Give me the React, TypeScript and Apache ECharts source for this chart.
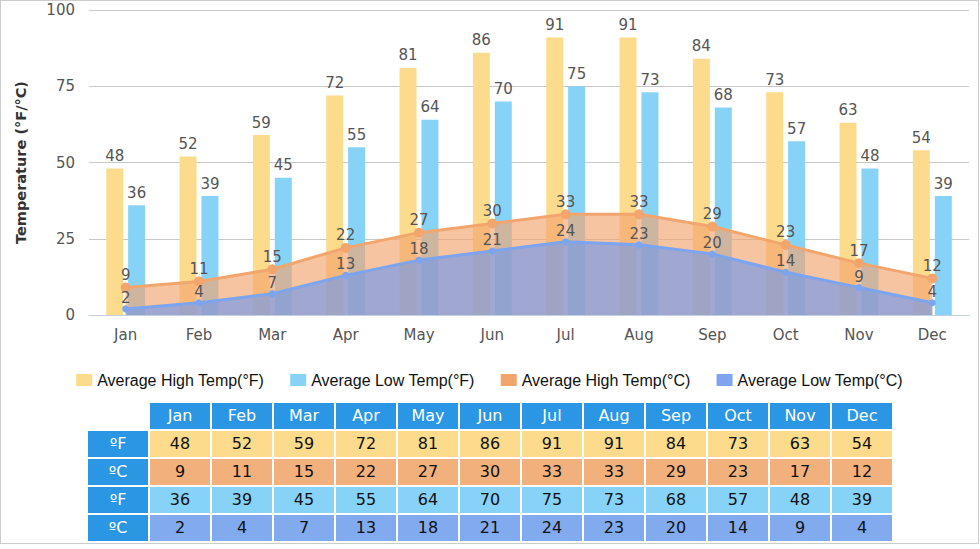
import * as echarts from "echarts";
import { useEffect, useRef } from "react";

const months = ["Jan", "Feb", "Mar", "Apr", "May", "Jun", "Jul", "Aug", "Sep", "Oct", "Nov", "Dec"];
const highF = [48, 52, 59, 72, 81, 86, 91, 91, 84, 73, 63, 54];
const lowF = [36, 39, 45, 55, 64, 70, 75, 73, 68, 57, 48, 39];
const highC = [9, 11, 15, 22, 27, 30, 33, 33, 29, 23, 17, 12];
const lowC = [2, 4, 7, 13, 18, 21, 24, 23, 20, 14, 9, 4];
const seriesNames = [
  "Average High Temp(°F)",
  "Average Low Temp(°F)",
  "Average High Temp(°C)",
  "Average Low Temp(°C)",
];
const yTicks = { min: 0, max: 100, interval: 25 };

const YELLOW = "#fcdb8c";
const SKY = "#87d3f8";
const ORANGE = "#f3a56e";
const BLUE = "#7da4ef";
const FONT = "DejaVu Sans";

const tableRows = [
  { unit: "ºF", values: highF, bg: YELLOW },
  { unit: "ºC", values: highC, bg: "#f2b07c" },
  { unit: "ºF", values: lowF, bg: SKY },
  { unit: "ºC", values: lowC, bg: "#82abef" },
];

const cell: React.CSSProperties = {
  width: 60,
  height: 26,
  padding: 0,
  textAlign: "center",
  verticalAlign: "middle",
  fontFamily: FONT,
  fontSize: 16,
  lineHeight: "26px",
};

export default function App() {
  const chartRef = useRef<HTMLDivElement>(null);

  useEffect(() => {
    if (!chartRef.current) return;
    const chart = echarts.init(chartRef.current, null, { renderer: "svg" });
    const barLabel = {
      show: true,
      position: "top" as const,
      color: "#555",
      fontSize: 15,
      fontFamily: FONT,
    };
    const lineLabel = { ...barLabel, distance: 0 };
    chart.setOption({
      animation: false,
      textStyle: { fontFamily: FONT },
      grid: { left: 88, top: 9, width: 880, height: 305 },
      legend: {
        top: 366,
        left: "center",
        itemWidth: 16,
        itemHeight: 12,
        itemGap: 26,
        textStyle: { fontFamily: "Liberation Sans", fontSize: 16, color: "#111" },
        data: seriesNames.map((name) => ({ name, icon: "rect" })),
      },
      xAxis: {
        type: "category",
        data: months,
        axisLine: { lineStyle: { color: "#c3cfdf" } },
        axisTick: { length: 5, lineStyle: { color: "#c3cfdf" } },
        axisLabel: { color: "#555", fontSize: 15, margin: 12 },
      },
      yAxis: {
        type: "value",
        ...yTicks,
        name: "Temperature (°F/°C)",
        nameLocation: "middle",
        nameRotate: 90,
        nameGap: 61,
        nameTextStyle: { color: "#333", fontSize: 14.5, fontWeight: "bold" },
        axisLine: { show: false },
        axisTick: { show: false },
        axisLabel: { color: "#555", fontSize: 15, margin: 14 },
        splitLine: { lineStyle: { color: "#c8c8c8" } },
      },
      series: [
        {
          name: seriesNames[0],
          type: "bar",
          data: highF,
          barWidth: 17,
          barGap: "29%",
          itemStyle: { color: YELLOW },
          label: barLabel,
        },
        {
          name: seriesNames[1],
          type: "bar",
          data: lowF,
          barWidth: 17,
          itemStyle: { color: SKY },
          label: barLabel,
        },
        {
          name: seriesNames[2],
          type: "line",
          data: highC,
          symbol: "circle",
          symbolSize: 10,
          itemStyle: { color: ORANGE },
          lineStyle: { color: ORANGE, width: 3 },
          areaStyle: { color: ORANGE, opacity: 0.65 },
          label: lineLabel,
        },
        {
          name: seriesNames[3],
          type: "line",
          data: lowC,
          symbol: "circle",
          symbolSize: 7,
          itemStyle: { color: BLUE },
          lineStyle: { color: BLUE, width: 3 },
          areaStyle: { color: "#7a9be6", opacity: 0.7 },
          label: lineLabel,
        },
      ],
    });
    return () => chart.dispose();
  }, []);

  return (
    <div
      style={{
        position: "absolute",
        left: 0,
        top: 0,
        width: 979,
        height: 544,
        border: "1px solid #cccccc",
        boxSizing: "border-box",
        background: "#fff",
      }}
    >
      <div ref={chartRef} style={{ position: "absolute", left: 0, top: 0, width: 977, height: 400 }} />
      <table
        style={{
          position: "absolute",
          left: 85,
          top: 400,
          borderCollapse: "separate",
          borderSpacing: 2,
        }}
      >
        <tbody>
          <tr>
            <td style={cell} />
            {months.map((m) => (
              <td key={m} style={{ ...cell, background: "#2a96e4", color: "#fff" }}>
                {m}
              </td>
            ))}
          </tr>
          {tableRows.map((row, i) => (
            <tr key={i}>
              <td style={{ ...cell, background: "#2a96e4", color: "#fff" }}>{row.unit}</td>
              {row.values.map((v, j) => (
                <td key={j} style={{ ...cell, background: row.bg, color: "#111" }}>
                  {v}
                </td>
              ))}
            </tr>
          ))}
        </tbody>
      </table>
    </div>
  );
}
